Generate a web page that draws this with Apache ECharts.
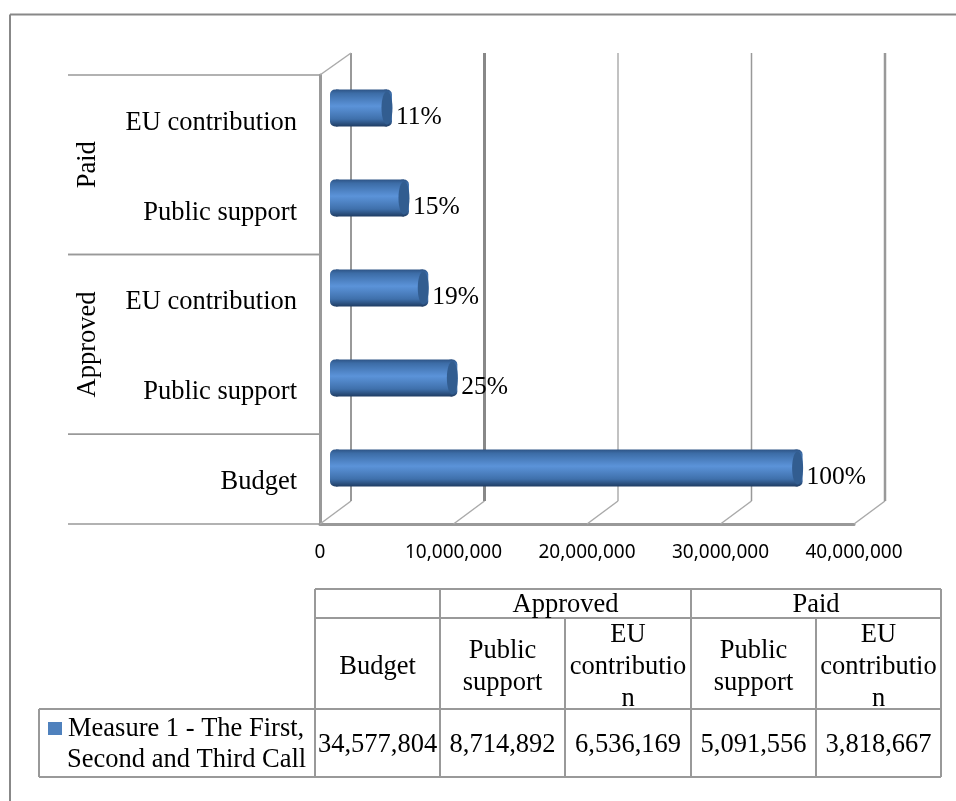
<!DOCTYPE html>
<html>
<head>
<meta charset="utf-8">
<style>
  html, body { margin: 0; padding: 0; background: #fff; }
  #chart { width: 956px; height: 801px; }
</style>
</head>
<body>
<div id="chart"></div>
<script src="https://cdn.jsdelivr.net/npm/echarts@6/dist/echarts.min.js"></script>
<script>
const seriesName = 'Measure 1 - The First, Second and Third Call'
const categories = ['Budget', 'Public support', 'EU contribution', 'Public support', 'EU contribution']
const values = [34577804, 8714892, 6536169, 5091556, 3818667]
const percents = ['100%', '25%', '19%', '15%', '11%']
const xTicks = [0, 10000000, 20000000, 30000000, 40000000]

// category groups on the left of the axis
const groupNames = ['', 'Approved', 'Paid']
const groupFrom = [0, 1, 3]
const groupTo = [0, 2, 4]

// data table under the chart
const tableGroups = ['Approved', 'Paid']
const tableHeads = ['Budget', 'Public\nsupport', 'EU\ncontributio\nn', 'Public\nsupport', 'EU\ncontributio\nn']
const legendLines = ['Measure 1 - The First,', 'Second and Third Call']

const serif = '"Liberation Serif", "Times New Roman", serif'
const lineColor = '#999'
const fmt = v => v.toLocaleString('en-US')

const chart = echarts.init(document.getElementById('chart'))

const barGradient = new echarts.graphic.LinearGradient(0, 0, 0, 1, [
  { offset: 0, color: '#2e5486' },
  { offset: 0.1, color: '#3c6ca6' },
  { offset: 0.45, color: '#5b93d9' },
  { offset: 0.8, color: '#3f70ab' },
  { offset: 1, color: '#1f3c63' }
])

// back wall + floor, derived from the front axis ticks
function renderWall(params, api) {
  const p = api.coord([api.value(0), 0])
  const box = params.coordSys
  const dx = 31
  const bottom = box.y + box.height
  const widths = [2, 3, 1.2, 1.5, 2.5]
  const children = [
    {
      type: 'line',
      shape: { x1: p[0], y1: bottom, x2: p[0] + dx, y2: bottom - 23 },
      style: { stroke: '#aaa', lineWidth: 1.5 }
    },
    {
      type: 'line',
      shape: { x1: p[0] + dx, y1: bottom - 23, x2: p[0] + dx, y2: box.y - 22 },
      style: { stroke: params.dataIndex === 1 ? '#888' : lineColor, lineWidth: widths[params.dataIndex] }
    }
  ]
  if (params.dataIndex === 0) {
    children.push({
      type: 'line',
      shape: { x1: p[0], y1: box.y, x2: p[0] + dx, y2: box.y - 22 },
      style: { stroke: '#aaa', lineWidth: 1.5 }
    })
  }
  return { type: 'group', children }
}

// group brackets and rotated group names
function renderGroup(params, api) {
  const box = params.coordSys
  const i = params.dataIndex
  const band = api.size([0, 1])[1]
  const yTop = api.coord([0, groupTo[i]])[1] - band / 2
  const yBottom = api.coord([0, groupFrom[i]])[1] + band / 2
  const left = box.x - 252
  const children = [
    {
      type: 'line',
      shape: { x1: left, y1: yTop, x2: box.x, y2: yTop },
      style: { stroke: lineColor, lineWidth: 1.5 }
    },
    {
      type: 'line',
      shape: { x1: left, y1: yBottom, x2: box.x, y2: yBottom },
      style: { stroke: lineColor, lineWidth: 1.5 }
    }
  ]
  if (groupNames[i]) {
    children.push({
      type: 'text',
      x: box.x - 232,
      y: (yTop + yBottom) / 2,
      rotation: Math.PI / 2,
      style: {
        text: groupNames[i],
        fill: '#000',
        font: '26.5px ' + serif,
        align: 'center',
        verticalAlign: 'middle'
      }
    })
  }
  return { type: 'group', children }
}

// round ends of the cylinders
function renderCaps(params, api) {
  const start = api.coord([0, api.value(1)])
  const end = api.coord([api.value(0), api.value(1)])
  const h = api.size([0, 1])[1] * 37 / 90
  return {
    type: 'group',
    children: [
      {
        type: 'rect',
        shape: { x: start[0] - 6, y: start[1] - h / 2, width: 12, height: h, r: 5 },
        style: { fill: barGradient }
      },
      {
        type: 'rect',
        shape: { x: end[0] - 6, y: end[1] - h / 2, width: 11, height: h, r: 5 },
        style: { fill: barGradient }
      },
      {
        type: 'ellipse',
        shape: { cx: end[0], cy: end[1], rx: 5.5, ry: h / 2 - 2 },
        style: { fill: '#325d90' }
      }
    ]
  }
}

function tableGraphics() {
  const xs = [315, 440, 565, 691, 816, 941]
  const ys = [589, 618, 709, 777]
  const out = []
  const line = (x1, y1, x2, y2) => out.push({
    type: 'line',
    shape: { x1, y1, x2, y2 },
    style: { stroke: lineColor, lineWidth: 2 }
  })
  const text = (str, x, y, align, lh) => out.push({
    type: 'text',
    x,
    y,
    style: {
      text: str,
      fill: '#000',
      font: '26.5px ' + serif,
      align: align || 'center',
      verticalAlign: 'middle',
      lineHeight: lh || 32
    }
  })

  // rows
  line(xs[0], ys[0], xs[5], ys[0])
  line(xs[0], ys[1], xs[5], ys[1])
  line(39, ys[2], xs[5], ys[2])
  line(39, ys[3], xs[5], ys[3])
  // columns
  line(39, ys[2], 39, ys[3])
  line(xs[0], ys[0], xs[0], ys[3])
  line(xs[1], ys[0], xs[1], ys[3])
  line(xs[2], ys[1], xs[2], ys[3])
  line(xs[3], ys[0], xs[3], ys[3])
  line(xs[4], ys[1], xs[4], ys[3])
  line(xs[5], ys[0], xs[5], ys[3])

  text(tableGroups[0], (xs[1] + xs[3]) / 2, 605)
  text(tableGroups[1], (xs[3] + xs[5]) / 2, 605)
  tableHeads.forEach((h, i) => {
    text(h, (xs[i] + xs[i + 1]) / 2, 667)
    text(fmt(values[i]), (xs[i] + xs[i + 1]) / 2, 745)
  })

  out.push({
    type: 'rect',
    shape: { x: 48, y: 722, width: 14, height: 13 },
    style: { fill: '#4f81bd' }
  })
  text(legendLines[0], 68, 729, 'left')
  text(legendLines[1], 67, 760, 'left')
  return out
}

const option = {
  backgroundColor: '#fff',
  animation: false,
  grid: [
    { left: 320, top: 75, width: 534, height: 449 },
    { left: 336, top: 63, width: 534, height: 450 }
  ],
  xAxis: [
    {
      gridIndex: 0,
      type: 'value',
      min: 0,
      max: 40000000,
      interval: 10000000,
      axisLine: { show: true, lineStyle: { color: lineColor, width: 3 } },
      axisTick: { show: false },
      splitLine: { show: false },
      axisLabel: {
        margin: 19,
        color: '#000',
        fontSize: 19,
        fontFamily: '"Noto Sans"',
        formatter: v => fmt(v)
      }
    },
    { gridIndex: 1, type: 'value', min: 0, max: 40000000, show: false }
  ],
  yAxis: [
    {
      gridIndex: 0,
      type: 'category',
      data: categories,
      axisLine: { show: true, lineStyle: { color: lineColor, width: 3 } },
      axisTick: { show: false },
      splitLine: { show: false },
      axisLabel: {
        margin: 23,
        // labels sit a little below the band centre in the original
        formatter: v => '{cat|' + v + '}',
        rich: {
          cat: {
            color: '#000',
            fontSize: 26.5,
            fontFamily: serif,
            padding: [6, 0, 0, 0]
          }
        }
      }
    },
    { gridIndex: 1, type: 'category', data: categories, show: false }
  ],
  series: [
    {
      type: 'custom',
      name: 'wall',
      xAxisIndex: 0,
      yAxisIndex: 0,
      z: 1,
      silent: true,
      clip: false,
      renderItem: renderWall,
      data: xTicks.map(t => [t, 0])
    },
    {
      type: 'custom',
      name: 'groups',
      xAxisIndex: 0,
      yAxisIndex: 0,
      z: 1,
      silent: true,
      clip: false,
      renderItem: renderGroup,
      data: groupNames.map((g, i) => [0, groupFrom[i]])
    },
    {
      type: 'bar',
      name: seriesName,
      xAxisIndex: 1,
      yAxisIndex: 1,
      z: 3,
      barWidth: 37,
      itemStyle: { color: barGradient },
      label: {
        show: true,
        position: 'right',
        distance: 9,
        offset: [0, 9],
        color: '#000',
        fontSize: 25.5,
        fontFamily: serif,
        formatter: p => percents[p.dataIndex]
      },
      data: values
    },
    {
      type: 'custom',
      name: 'caps',
      xAxisIndex: 1,
      yAxisIndex: 1,
      z: 4,
      silent: true,
      clip: false,
      renderItem: renderCaps,
      data: values.map((v, i) => [v, i])
    }
  ],
  graphic: [
    {
      type: 'line',
      shape: { x1: 10, y1: 14.5, x2: 956, y2: 14.5 },
      style: { stroke: '#888', lineWidth: 2 }
    },
    {
      type: 'line',
      shape: { x1: 10, y1: 14.5, x2: 10, y2: 801 },
      style: { stroke: '#888', lineWidth: 2 }
    }
  ].concat(tableGraphics())
}

chart.setOption(option)
</script>
</body>
</html>
